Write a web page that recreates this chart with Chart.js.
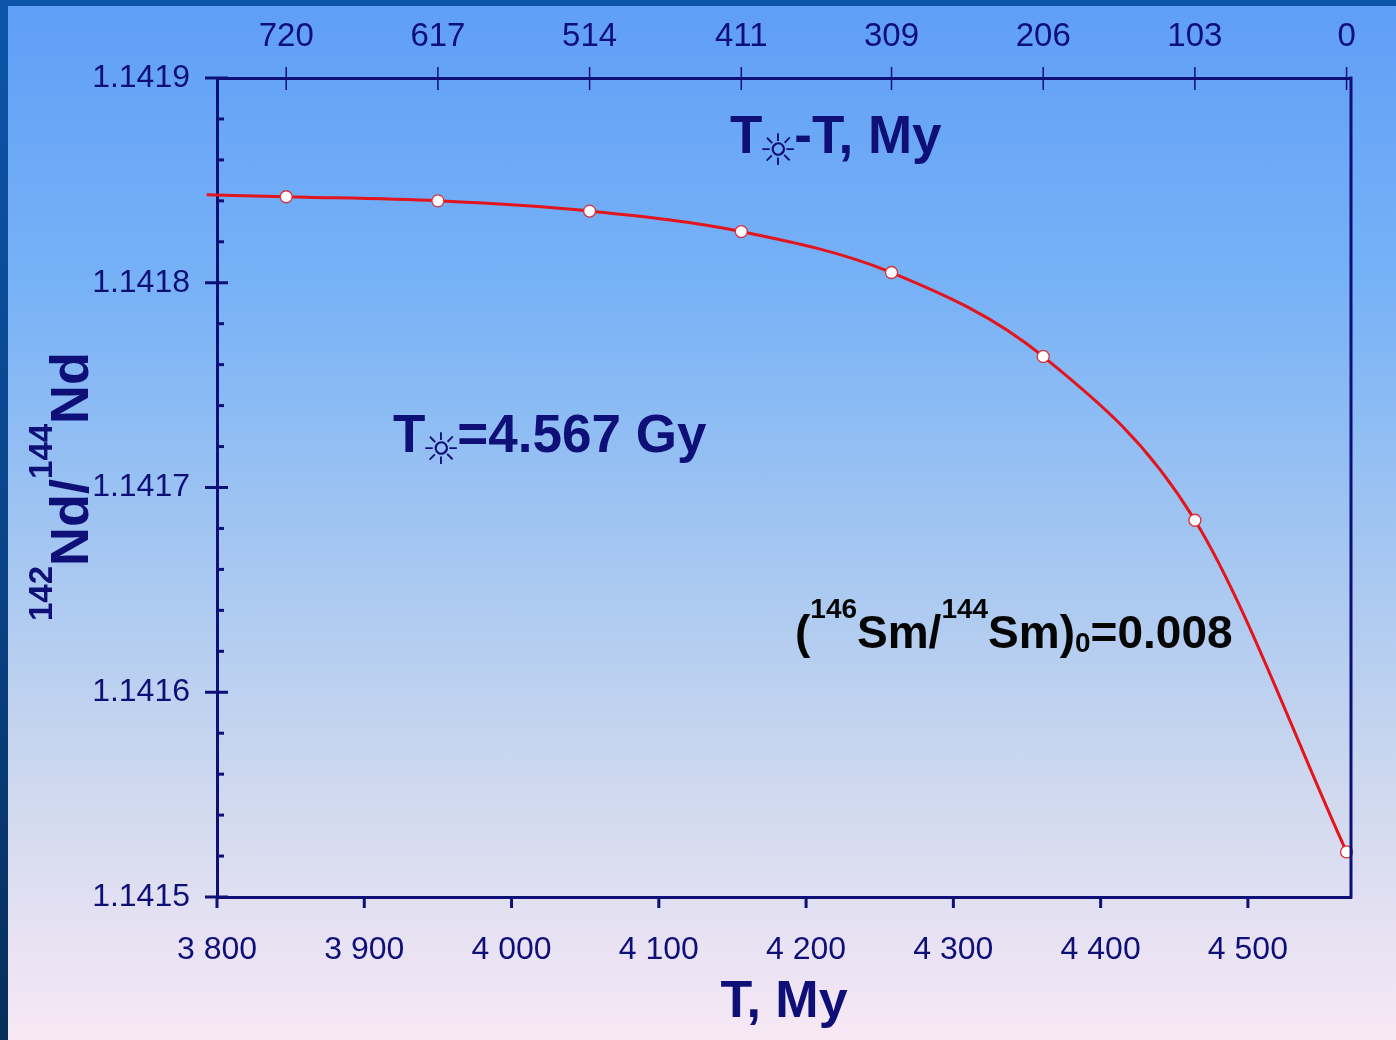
<!DOCTYPE html>
<html>
<head>
<meta charset="utf-8">
<title>142Nd/144Nd evolution</title>
<script src="https://cdn.jsdelivr.net/npm/chart.js@4.4.1/dist/chart.umd.min.js"></script>
<style>
  html, body { margin: 0; padding: 0; width: 1396px; height: 1040px; overflow: hidden; }
  #slide {
    position: relative; width: 1396px; height: 1040px;
    background: linear-gradient(to bottom, #5f9ef7 0%, #78b2f6 28%, #a8c8f1 55%, #d2daef 78%, #f8e8f5 100%);
  }
  #topband { position: absolute; left: 0; top: 0; width: 1396px; height: 6px; background: #0d55a8; }
  #leftband { position: absolute; left: 0; top: 0; width: 8px; height: 1040px;
    background: linear-gradient(to bottom, #0c55aa, #0a4386 55%, #062e5a); }
  #wrap { position: absolute; left: 0; top: 0; width: 1396px; height: 1040px; }
</style>
</head>
<body>
<div id="slide">
  <div id="topband"></div>
  <div id="leftband"></div>
  <div id="wrap"><canvas id="chart"></canvas></div>
</div>
<script>
// Age of the Solar System, My
const T_SUN = 4567;
const T_AXIS_MAX = 4570;

// Model points: time T (My) and the 142Nd/144Nd ratio
const timeT   = [3847, 3950, 4053, 4156, 4258, 4361, 4464, 4567];
const ndRatio = [1.141842, 1.141840, 1.141835, 1.141825, 1.141805, 1.141764, 1.141684, 1.141522];

// The curve starts a little before the first point
const curveLeadT     = [3793];
const curveLeadRatio = [1.141843];

// Axis ticks
const timeTicks  = [3800, 3900, 4000, 4100, 4200, 4300, 4400, 4500];
const ageTicks   = [720, 617, 514, 411, 309, 206, 103, 0];
const ratioTicks = [1.1415, 1.1416, 1.1417, 1.1418, 1.1419];
const ratioMinorStep = 0.00002;

const NAVY = '#0f0f78';
const SANS = '"Liberation Sans", Arial, sans-serif';

const pointData = timeT.map((t, i) => ({ x: t, y: ndRatio[i] }));
const curveData = curveLeadT.map((t, i) => ({ x: t, y: curveLeadRatio[i] })).concat(pointData);

function fmtThousands(v) {
  const s = String(Math.round(v));
  return s.length > 3 ? s.slice(0, -3) + ' ' + s.slice(-3) : s;
}

// Draws a run of text pieces left to right from (x, y)
function drawRun(ctx, x, y, parts, color) {
  ctx.fillStyle = color;
  ctx.textAlign = 'left';
  for (const p of parts) {
    if (p.sun) {
      drawSun(ctx, x, y, p.slot, color);
      x += p.slot;
      continue;
    }
    ctx.font = p.font;
    ctx.textBaseline = 'alphabetic';
    ctx.fillText(p.t, x, y - (p.dy || 0));
    x += ctx.measureText(p.t).width;
  }
}

// Solar symbol as a subscript, fitted into a slot of given width
function drawSun(ctx, x, baseline, slot, color) {
  const ch = '\u263C';
  ctx.font = '100px "DejaVu Sans"';
  const m = ctx.measureText(ch);
  const ink = m.actualBoundingBoxLeft + m.actualBoundingBoxRight;
  const size = 100 * (slot * 1.0) / ink;
  ctx.font = size.toFixed(1) + 'px "DejaVu Sans"';
  const m2 = ctx.measureText(ch);
  const inkW = m2.actualBoundingBoxLeft + m2.actualBoundingBoxRight;
  const inkTop = m2.actualBoundingBoxAscent, inkBot = m2.actualBoundingBoxDescent;
  const cx = x + slot / 2, cy = baseline - 4;
  ctx.textBaseline = 'alphabetic';
  ctx.fillStyle = color;
  ctx.fillText(ch, cx - inkW / 2 + m2.actualBoundingBoxLeft, cy + (inkTop - inkBot) / 2);
}

const framePlugin = {
  id: 'frame',
  afterDatasetsDraw(chart) {
    const { ctx, chartArea: a, scales } = chart;
    const xs = scales.x, xt = scales.x2, ys = scales.y;
    const seg = (x1, y1, x2, y2) => { ctx.beginPath(); ctx.moveTo(x1, y1); ctx.lineTo(x2, y2); ctx.stroke(); };
    ctx.save();
    ctx.strokeStyle = NAVY;
    ctx.lineCap = 'butt';

    // right edge of the frame
    ctx.lineWidth = 3;
    seg(a.right, a.top - 1.5, a.right, a.bottom + 1.5);

    // ratio ticks: major cross the axis, minor point inward
    const n = Math.round((ratioTicks[ratioTicks.length - 1] - ratioTicks[0]) / ratioMinorStep);
    for (let i = 0; i <= n; i++) {
      const v = ratioTicks[0] + i * ratioMinorStep;
      const p = ys.getPixelForValue(v);
      const major = i % 5 === 0;
      seg(major ? a.left - 12 : a.left, p, a.left + (major ? 11 : 7), p);
    }
    // time ticks below the bottom axis
    timeTicks.forEach(v => { const p = xs.getPixelForValue(v); seg(p, a.bottom, p, a.bottom + 11); });
    // thin age ticks across the top axis
    ctx.lineWidth = 1.5;
    ageTicks.forEach(age => { const p = xt.getPixelForValue(T_SUN - age); seg(p, a.top - 11, p, a.top + 12); });

    // text inside the plot
    const big = 'bold 53px ' + SANS;
    drawRun(ctx, 730, 153, [{ t: 'T', font: big }, { sun: true, slot: 32 }, { t: '-T, My', font: big }], NAVY);
    drawRun(ctx, 393, 452, [{ t: 'T', font: big }, { sun: true, slot: 32 }, { t: '=4.567 Gy', font: big }], NAVY);

    const mid = 'bold 46px ' + SANS, sup = 'bold 28px ' + SANS;
    drawRun(ctx, 795, 648, [
      { t: '(', font: mid }, { t: '146', font: sup, dy: 30 }, { t: 'Sm/', font: mid },
      { t: '144', font: sup, dy: 30 }, { t: 'Sm)', font: mid }, { t: '0', font: sup, dy: -4 },
      { t: '=0.008', font: mid }
    ], '#050505');

    // rotated ratio title
    ctx.save();
    ctx.translate(88, 621);
    ctx.rotate(-Math.PI / 2);
    const yt = 'bold 54px ' + SANS, ys2 = 'bold 33px ' + SANS;
    drawRun(ctx, 0, 0, [
      { t: '142', font: ys2, dy: 36 }, { t: 'Nd/', font: yt },
      { t: '144', font: ys2, dy: 36 }, { t: 'Nd', font: yt }
    ], NAVY);
    ctx.restore();

    ctx.restore();
  }
};

new Chart(document.getElementById('chart'), {
  type: 'scatter',
  data: {
    datasets: [
      {
        data: pointData,
        showLine: false,
        pointRadius: 6,
        pointBackgroundColor: '#ffffff',
        pointBorderColor: '#d8303c',
        pointBorderWidth: 1.3,
        clip: false,
        order: 0
      },
      {
        data: curveData,
        showLine: true,
        borderColor: '#e3141c',
        borderWidth: 3,
        pointRadius: 0,
        cubicInterpolationMode: 'monotone',
        clip: false,
        order: 1
      }
    ]
  },
  options: {
    responsive: true,
    maintainAspectRatio: false,
    animation: false,
    layout: { padding: { left: 0, right: 45, top: 0, bottom: 0 } },
    plugins: { legend: { display: false }, tooltip: { enabled: false } },
    scales: {
      x: {
        type: 'linear', position: 'bottom', min: 3800, max: T_AXIS_MAX,
        afterBuildTicks: s => { s.ticks = timeTicks.map(v => ({ value: v })); },
        afterFit: s => { s.height = 143; },
        grid: { display: false, drawTicks: false },
        border: { display: true, color: NAVY, width: 3 },
        ticks: {
          autoSkip: false, maxRotation: 0, padding: 34, color: NAVY,
          font: { family: SANS, size: 32 },
          callback: v => fmtThousands(v)
        },
        title: {
          display: true, text: 'T, My', color: NAVY,
          font: { family: SANS, size: 52, weight: 'bold' },
          padding: { top: 0, bottom: 6 }
        }
      },
      x2: {
        type: 'linear', position: 'top', min: 3800, max: T_AXIS_MAX,
        afterBuildTicks: s => { s.ticks = ageTicks.map(a => ({ value: T_SUN - a })); },
        afterFit: s => { s.height = 78; },
        grid: { display: false, drawTicks: false },
        border: { display: true, color: NAVY, width: 3 },
        ticks: {
          autoSkip: false, maxRotation: 0, padding: 21, color: NAVY,
          font: { family: SANS, size: 33 },
          callback: (v, i) => String(ageTicks[i])
        }
      },
      y: {
        type: 'linear', position: 'left', min: ratioTicks[0], max: ratioTicks[ratioTicks.length - 1],
        afterBuildTicks: s => { s.ticks = ratioTicks.map(v => ({ value: v })); },
        afterFit: s => { s.width = 217; },
        grid: { display: false, drawTicks: false },
        border: { display: true, color: NAVY, width: 3 },
        ticks: {
          autoSkip: false, padding: 27, color: NAVY,
          font: { family: SANS, size: 32 },
          callback: v => v.toFixed(4)
        }
      }
    }
  },
  plugins: [framePlugin]
});
</script>
</body>
</html>
